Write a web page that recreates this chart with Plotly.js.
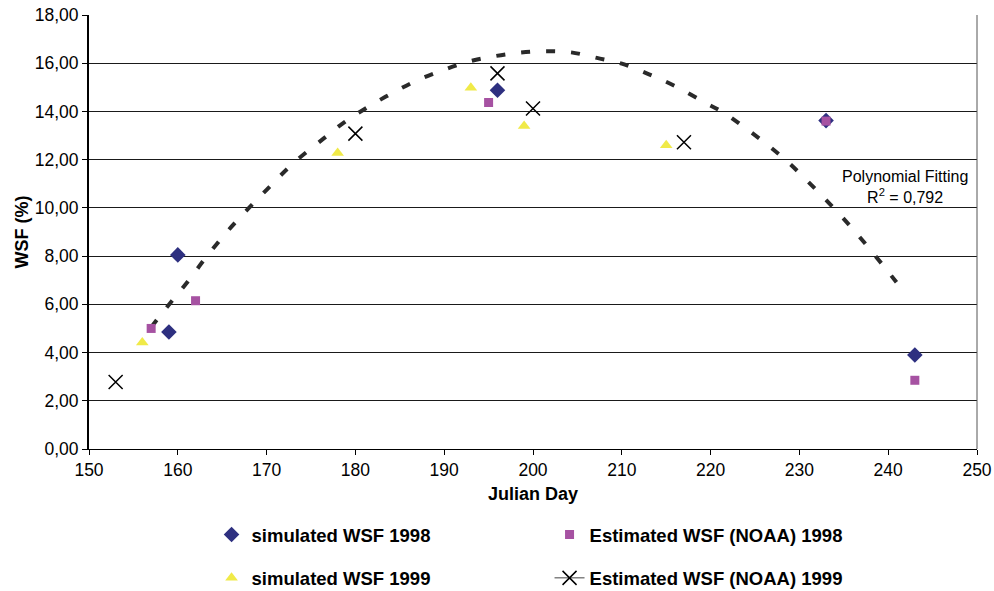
<!DOCTYPE html>
<html>
<head>
<meta charset="utf-8">
<script src="https://cdn.plot.ly/plotly-3.0.1.min.js"></script>
<style>html,body{margin:0;padding:0;background:#fff;}#chart{width:994px;height:591px;}</style>
</head>
<body>
<div id="chart"></div>
<script>
// ---- data ----
const sim1998Day = [159, 160, 196, 233, 243];
const sim1998WSF = [4.85, 8.05, 14.88, 13.62, 3.90];

const noaa1998Day = [157, 162, 195, 233, 243];
const noaa1998WSF = [5.00, 6.15, 14.37, 13.60, 2.85];

const sim1999Day = [156, 178, 193, 199, 215];
const sim1999WSF = [4.42, 12.28, 14.98, 13.40, 12.60];

const noaa1999Day = [153, 180, 196, 200, 217];
const noaa1999WSF = [2.78, 13.08, 15.58, 14.12, 12.72];

// polynomial fitting curve
const fitDay = [157, 159.2, 161.2, 163.1, 166, 170, 173, 176.4, 178.7, 181.3, 184.1, 187, 189.9, 192.8, 195.8, 198.6, 201.5, 204.3, 207.2, 210, 213, 216, 219.2, 221.6, 224.1, 226.5, 228.8, 231.0, 233.2, 235.4, 237.5, 239.5, 241.5];
const fitWSF = [5.05, 6.08, 6.98, 7.91, 9.2, 10.75, 11.85, 12.87, 13.54, 14.16, 14.75, 15.3, 15.72, 16.07, 16.3, 16.44, 16.5, 16.45, 16.22, 15.98, 15.55, 15.05, 14.4, 13.92, 13.26, 12.59, 11.87, 11.08, 10.25, 9.38, 8.48, 7.58, 6.65];

const xTicks = [150, 160, 170, 180, 190, 200, 210, 220, 230, 240, 250];
const yTicks = [0, 2, 4, 6, 8, 10, 12, 14, 16, 18];

const names = ["simulated WSF 1998", "Estimated WSF (NOAA) 1998", "simulated WSF 1999", "Estimated WSF (NOAA) 1999"];
const fitLabel = "Polynomial Fitting<br>R<sup>2</sup> = 0,792";

// interleave gaps so the "line" style of the NOAA 1999 series only shows in the legend
function withGaps(arr) {
  const out = [];
  arr.forEach((v, i) => { if (i > 0) out.push(null); out.push(v); });
  return out;
}

const FONT = "Liberation Sans, Arial, sans-serif";

const traces = [
  {
    x: fitDay, y: fitWSF, mode: "lines", type: "scatter", showlegend: false,
    line: {color: "#2a2a2a", width: 4, dash: "9px,16px", shape: "spline"},
    hoverinfo: "skip"
  },
  {
    x: sim1998Day, y: sim1998WSF, mode: "markers", type: "scatter", name: names[0],
    legend: "legend",
    marker: {symbol: "diamond", size: 12, color: "#2E3080"}
  },
  {
    x: noaa1998Day, y: noaa1998WSF, mode: "markers", type: "scatter", name: names[1],
    legend: "legend",
    marker: {symbol: "square", size: 9, color: "#A652A2"}
  },
  {
    x: sim1999Day, y: sim1999WSF, mode: "markers", type: "scatter", name: names[2],
    legend: "legend2",
    marker: {symbol: "triangle-up", size: 11, color: "#F0EA48"}
  },
  {
    x: withGaps(noaa1999Day), y: withGaps(noaa1999WSF), mode: "lines+markers", type: "scatter", name: names[3],
    legend: "legend2", connectgaps: false,
    line: {color: "#444", width: 1},
    marker: {symbol: "x-thin-open", size: 14, color: "#000", line: {color: "#000", width: 1.5}}
  }
];

const legendCommon = {
  orientation: "h", xanchor: "left", yanchor: "middle",
  entrywidth: 293, entrywidthmode: "pixels",
  font: {family: FONT, size: 18.5, color: "#000", weight: "bold"},
  bgcolor: "rgba(0,0,0,0)", borderwidth: 0, itemclick: false
};

const layout = {
  width: 994, height: 591,
  margin: {l: 89, r: 17, t: 15, b: 142, autoexpand: false},
  paper_bgcolor: "#fff", plot_bgcolor: "#fff",
  separators: ", ",
  font: {family: FONT, size: 18, color: "#000"},
  xaxis: {
    range: [150, 250], tickvals: xTicks, ticktext: xTicks.map(String),
    showgrid: false, zeroline: false,
    showline: true, linecolor: "#000", linewidth: 1,
    ticks: "outside", ticklen: 5, tickcolor: "#000",
    tickfont: {family: FONT, size: 17.5, color: "#000"},
    title: {text: "Julian Day", font: {family: FONT, size: 18, weight: "bold", color: "#000"}, standoff: 8}
  },
  yaxis: {
    range: [0, 18], tickvals: yTicks, tickformat: ".2f",
    showgrid: true, gridcolor: "#1a1a1a", gridwidth: 1, zeroline: false,
    showline: true, linecolor: "#000", linewidth: 2,
    ticks: "outside", ticklen: 5, tickcolor: "#000",
    tickfont: {family: FONT, size: 17.5, color: "#000"},
    title: {text: "WSF (%)", font: {family: FONT, size: 18, weight: "bold", color: "#000"}, standoff: 1}
  },
  legend: Object.assign({}, legendCommon, {x: 0.138, y: -0.198}),
  legend2: Object.assign({}, legendCommon, {x: 0.138, y: -0.298}),
  shapes: [
    {type: "line", xref: "paper", yref: "paper", x0: 1, x1: 1, y0: 0, y1: 1, line: {color: "#555", width: 1}}
  ],
  annotations: [
    {xref: "x", yref: "y", x: 241.9, y: 10.85, text: fitLabel, showarrow: false,
     align: "center", font: {family: FONT, size: 16, color: "#000"}}
  ]
};

Plotly.newPlot("chart", traces, layout, {displayModeBar: false, staticPlot: true});
</script>
</body>
</html>
